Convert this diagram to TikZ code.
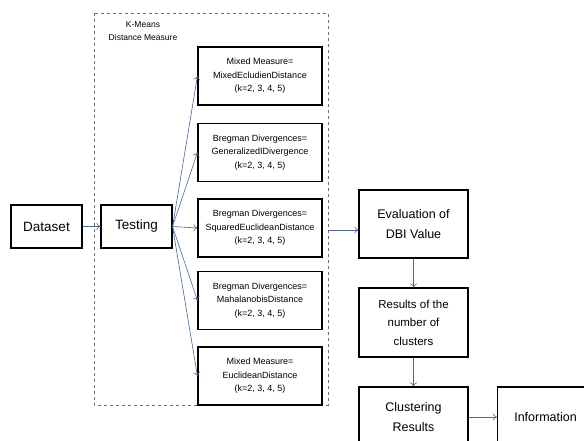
\documentclass[tikz,border=0pt]{standalone}
\usepackage{fontspec}
\setmainfont{Liberation Sans}
\usepackage{xcolor}
\usepackage{tikz}
\usetikzlibrary{arrows.meta}

\definecolor{linkblue}{RGB}{72,102,150}
\definecolor{framegray}{RGB}{110,110,110}

\begin{document}
\begin{tikzpicture}[x=1pt, y=-1pt,
    box/.style={draw=black, line width=1.1pt, align=center, inner sep=1pt},
    bigbox/.style={box, font=\fontsize{12.5}{20}\selectfont},
    measure/.style={box, minimum width=124pt, minimum height=58pt, font=\fontsize{9}{13.5}\selectfont},
    link/.style={draw=linkblue, line width=0.6pt, -{To[length=4pt, width=7pt]}}]
    \useasboundingbox (0,0) rectangle (584,441);
    \clip (0,0) rectangle (584,441);

    % K-Means container
    \draw[framegray, dashed, line width=0.6pt] (94,13) rectangle (328,405);
    \node[font=\fontsize{8.5}{13}\selectfont, align=center] (kmlabel) at (143,31) {K-Means\\Distance Measure};

    % input side
    \node[bigbox, minimum width=71pt, minimum height=43pt, font=\fontsize{13.5}{20}\selectfont] (dataset) at (46.5,226.5) {Dataset};
    \node[bigbox, minimum width=71pt, minimum height=43pt, font=\fontsize{13.5}{20}\selectfont] (testing) at (136.5,226.5) {Testing};

    % distance measures
    \node[measure] (m1) at (260,76) {Mixed Measure=\\MixedEcludienDistance\\(k=2, 3, 4, 5)};
    \node[measure] (m2) at (260,152.5) {Bregman Divergences=\\GeneralizedIDivergence\\(k=2, 3, 4, 5)};
    \node[measure] (m3) at (260,228) {Bregman Divergences=\\SquaredEuclideanDistance\\(k=2, 3, 4, 5)};
    \node[measure] (m4) at (260,300.5) {Bregman Divergences=\\MahalanobisDistance\\(k=2, 3, 4, 5)};
    \node[measure] (m5) at (260,376) {Mixed Measure=\\EuclideanDistance\\(k=2, 3, 4, 5)};

    % output side
    \node[bigbox, minimum width=109pt, minimum height=68pt] (eval) at (413.5,224) {Evaluation of\\DBI Value};
    \node[bigbox, minimum width=109pt, minimum height=69pt, font=\fontsize{11.5}{18.5}\selectfont] (nclust) at (413.5,322.5) {Results of the\\number of\\clusters};
    \node[bigbox, minimum width=109pt, minimum height=60pt] (clres) at (413.5,417) {Clustering\\Results};
    \node[bigbox, minimum width=96pt, minimum height=60pt, anchor=west] (info) at (497,417) {Information};

    % connectors
    \coordinate (kout) at (328,230);
    \draw[link] (dataset) -- (testing);
    \foreach \m in {m1,m2,m3,m4,m5}
        \draw[link] (testing.east) -- (\m.west);
    \draw[link] (kout) -- (kout -| eval.west);
    \draw[link] (eval) -- (nclust);
    \draw[link] (nclust) -- (clres);
    \draw[link] (clres) -- (info);
\end{tikzpicture}
\end{document}
